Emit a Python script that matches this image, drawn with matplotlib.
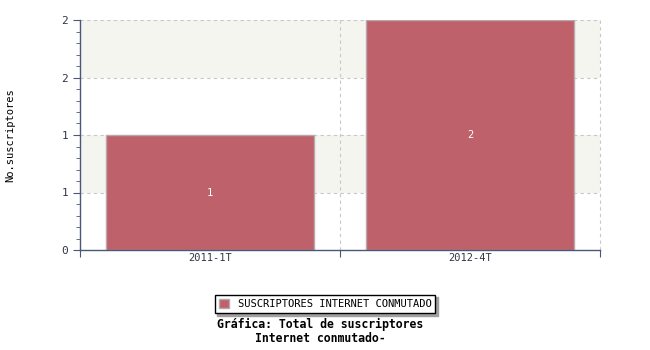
import matplotlib
matplotlib.use("Agg")
import matplotlib.pyplot as plt
import numpy as np
from matplotlib.ticker import FixedLocator, MultipleLocator

categories = ["2011-1T", "2012-4T"]
values = [1, 2]
series_name = "SUSCRIPTORES INTERNET CONMUTADO"
ytick_values = [0, 0.5, 1, 1.5, 2]
ytick_labels = ["0", "1", "1", "2", "2"]
ylabel = "No.suscriptores"
title = "Gráfica: Total de suscriptores\nInternet conmutado-"

plt.rcParams['font.family'] = ['DejaVu Sans Mono']
axis_col = "#4a5878"
bar_col = "#bf616a"

fig = plt.figure(figsize=(6.5, 3.5), dpi=100)
ax = fig.add_axes([80/650, 1-250/350, 520/650, 230/350])

x = np.arange(len(categories))
ax.set_xlim(-0.5, len(categories) - 0.5)
ax.set_ylim(0, 2)

# alternating bands
for i in range(len(ytick_values) - 1):
    if i % 2 == 1:
        ax.axhspan(ytick_values[i], ytick_values[i+1], color="#f5f5f0", zorder=0, lw=0)
for yv in ytick_values[1:]:
    ax.axhline(yv, color="#c8c8c8", ls=(0, (3, 3)), lw=0.8, zorder=1)
for xv in np.arange(len(categories) + 1) - 0.5:
    ax.axvline(xv, color="#c8c8c8", ls=(0, (3, 3)), lw=0.8, zorder=1, clip_on=False)

bars = ax.bar(x, values, width=0.8, color=bar_col, edgecolor="#b8a8aa", lw=1, zorder=2,
              label=series_name)
for xi, v in zip(x, values):
    ax.text(xi, v / 2, str(v), color="white", ha="center", va="center", fontsize=7.5, zorder=3)

ax.yaxis.set_major_locator(FixedLocator(ytick_values))
ax.set_yticklabels(ytick_labels)
ax.yaxis.set_minor_locator(MultipleLocator(0.1))
ax.xaxis.set_major_locator(FixedLocator(np.arange(len(categories) + 1) - 0.5))
ax.xaxis.set_minor_locator(FixedLocator(x))
ax.set_xticklabels([""] * (len(categories) + 1))
ax.set_xticklabels(categories, minor=True)
ax.tick_params(axis="x", which="major", direction="out", length=5, color=axis_col)
ax.tick_params(axis="x", which="minor", length=0, labelsize=7.5, labelcolor="#333344", pad=2)
ax.tick_params(axis="y", which="major", direction="out", length=5, color=axis_col,
               labelsize=8, labelcolor="#333344")
ax.tick_params(axis="y", which="minor", direction="out", length=3, color=axis_col)

for s in ["top", "right"]:
    ax.spines[s].set_visible(False)
for s in ["left", "bottom"]:
    ax.spines[s].set_color(axis_col)
    ax.spines[s].set_linewidth(1)

fig.text(10/650, 1-135/350, ylabel, rotation=90, ha="center", va="center", fontsize=7.5)

leg = fig.legend(handles=[bars], labels=[series_name], loc="center",
                 bbox_to_anchor=(325/650, 1-304/350), fontsize=7.5, frameon=True,
                 fancybox=False, shadow={'color': '#a0a0a0', 'alpha': 1.0},
                 edgecolor="black", handlelength=1.0,
                 handleheight=1.0, borderpad=0.4)
leg.get_frame().set_linewidth(1)

fig.text(320/650, 1-331/350, title, ha="center", va="center", fontsize=8.3,
         fontweight="bold", linespacing=1.1)

fig.savefig("out.png", dpi=100)
